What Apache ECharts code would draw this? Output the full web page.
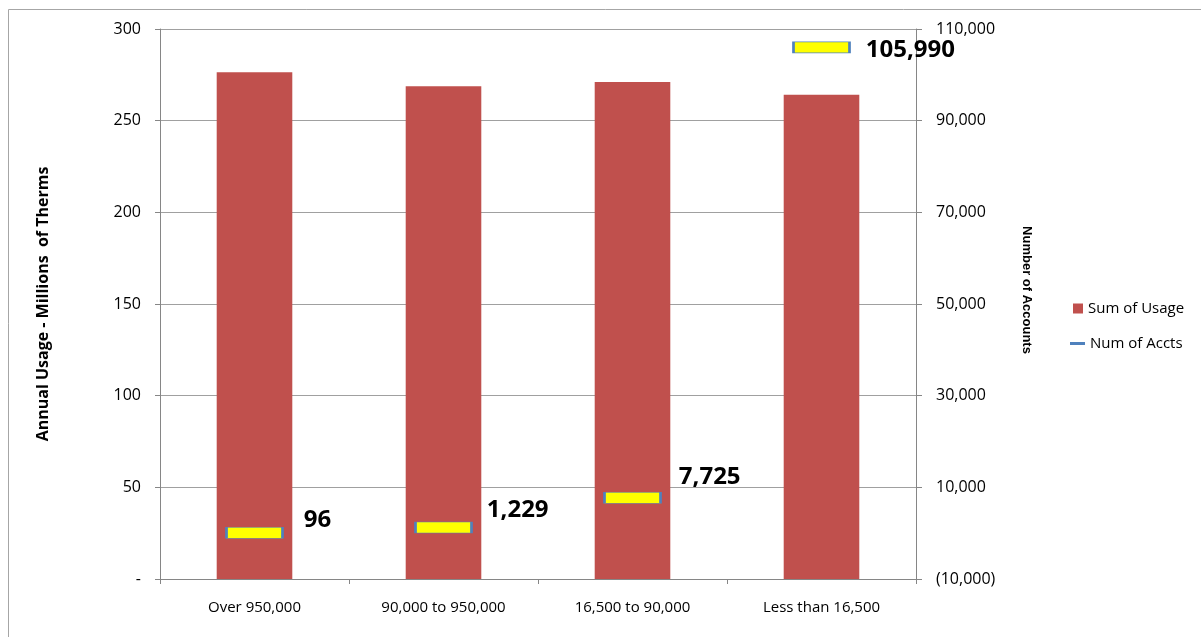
<!DOCTYPE html>
<html>
<head>
<meta charset="utf-8">
<script src="https://cdn.jsdelivr.net/npm/echarts@6/dist/echarts.min.js"></script>
<style>
  html, body { margin: 0; padding: 0; background: #fff; }
  #chart { width: 1201px; height: 637px; }
</style>
</head>
<body>
<div id="chart"></div>
<script>
// Account size bands (annual therms)
const categories = ['Over 950,000', '90,000 to 950,000', '16,500 to 90,000', 'Less than 16,500'];
// Annual usage, millions of therms
const usage = [276.4, 268.8, 271.1, 264.1];
// Number of accounts in each band
const accounts = [96, 1229, 7725, 105990];
// Per-label nudges for the account count labels [dx, dy]
const labelNudges = [[20, -13], [14, -17], [17, -21], [15, 3]];

const fmtThousands = v => Math.abs(v).toLocaleString('en-US');
const font = '"Open Sans", "Noto Sans", sans-serif';

const chart = echarts.init(document.getElementById('chart'), null, { renderer: 'canvas' });

chart.setOption({
  animation: false,
  backgroundColor: '#ffffff',
  textStyle: { fontFamily: font, color: '#000' },
  graphic: [{
    type: 'rect',
    silent: true,
    shape: { x: 8.5, y: 9.5, width: 1300, height: 700 },
    style: { fill: 'none', stroke: '#a6a6a6', lineWidth: 1 }
  }],
  grid: { left: 160, right: 285, top: 29, bottom: 58 },
  legend: [{
    data: [{ name: 'Sum of Usage', icon: 'rect' }],
    left: 1068, top: 296,
    itemWidth: 10, itemHeight: 10, itemGap: 6,
    textStyle: { fontFamily: font, fontSize: 15, color: '#000' }
  }, {
    data: [{ name: 'Num of Accts', icon: 'rect', itemStyle: { color: '#4F81BD', borderWidth: 0 } }],
    left: 1065, top: 331,
    itemWidth: 15, itemHeight: 3, itemGap: 3,
    textStyle: { fontFamily: font, fontSize: 15, color: '#000' }
  }],
  xAxis: {
    type: 'category',
    data: categories,
    axisLine: { lineStyle: { color: '#868686', width: 1 } },
    axisTick: { show: true, alignWithLabel: false, length: 5, lineStyle: { color: '#868686' } },
    axisLabel: { margin: 21, fontSize: 15, color: '#000', fontFamily: font }
  },
  yAxis: [{
    type: 'value',
    min: 0, max: 300, interval: 50,
    name: 'Annual Usage - Millions  of Therms',
    nameLocation: 'middle',
    nameGap: 109,
    nameRotate: 90,
    nameTextStyle: { fontFamily: font, fontWeight: 'bold', fontSize: 16, color: '#000' },
    axisLine: { show: true, lineStyle: { color: '#868686' } },
    axisTick: { show: true, length: 5, lineStyle: { color: '#868686' } },
    axisLabel: { margin: 19, fontSize: 16, color: '#000', fontFamily: font,
      formatter: v => v === 0 ? '-' : String(v) },
    splitLine: { show: true, lineStyle: { color: '#a0a0a0', width: 1 } }
  }, {
    type: 'value',
    min: -10000, max: 110000, interval: 20000,
    position: 'right',
    name: 'Number of Accounts',
    nameLocation: 'middle',
    nameGap: 104,
    nameRotate: -90,
    nameTextStyle: { fontFamily: '"Liberation Sans", Arial, sans-serif', fontWeight: 'bold', fontSize: 13, color: '#000',
      padding: [0, 28, 0, 0] },
    axisLine: { show: true, lineStyle: { color: '#868686' } },
    axisTick: { show: true, length: 6, lineStyle: { color: '#868686' } },
    axisLabel: { margin: 20, fontSize: 16, color: '#000', fontFamily: font,
      formatter: v => v < 0 ? '(' + fmtThousands(v) + ')' : fmtThousands(v) },
    splitLine: { show: false }
  }],
  series: [{
    name: 'Sum of Usage',
    type: 'bar',
    yAxisIndex: 0,
    data: usage,
    barWidth: '40%',
    itemStyle: { color: '#C0504D' }
  }, {
    name: 'Num of Accts',
    type: 'line',
    yAxisIndex: 1,
    data: accounts.map((v, i) => ({
      value: v,
      label: { offset: labelNudges[i] }
    })),
    lineStyle: { width: 0, opacity: 0 },
    itemStyle: { color: '#FFFF00', borderColor: '#4F81BD', borderWidth: 1.2 },
    symbol: 'rect',
    symbolSize: [56, 11],
    z: 5,
    label: {
      show: true,
      position: 'right',
      distance: 0,
      fontFamily: font,
      fontWeight: 'bold',
      fontSize: 24,
      color: '#000',
      formatter: p => fmtThousands(p.value)
    }
  }]
});
</script>
</body>
</html>
